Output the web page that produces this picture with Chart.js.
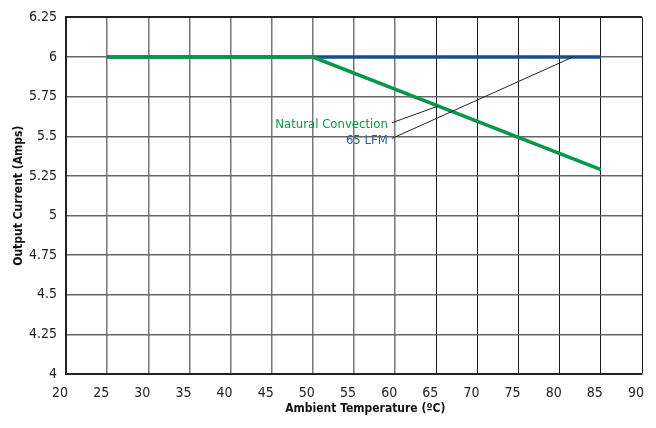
<!DOCTYPE html>
<html>
<head>
<meta charset="utf-8">
<script src="https://cdn.jsdelivr.net/npm/chart.js@4/dist/chart.umd.min.js"></script>
<style>
  html, body { margin: 0; padding: 0; background: #fff; }
  #wrap { width: 656px; height: 428px; }
</style>
</head>
<body>
<div id="wrap"><canvas id="derating"></canvas></div>
<script>
// Ambient temperature (ºC) and output current (Amps)
const naturalTemps = [25, 50, 85];
const naturalCurrent = [6, 6, 5.29];
const lfmTemps = [25, 85];
const lfmCurrent = [6, 6];

// callout labels and where their leader lines start/end (data units)
const calloutLabels = ['Natural Convection', '65 LFM'];
const calloutFrom = [[59.6, 5.585], [59.6, 5.486]];
const calloutTo = [[65.2, 5.69], [81.6, 6.0]];

const FONT = '"DejaVu Sans Condensed", "Liberation Sans Narrow", sans-serif';
const GREEN = '#05984a';
const BLUE = '#144f8c';

// draw the callouts with their leader lines
const calloutPlugin = {
    id: 'callouts',
    afterDatasetsDraw(chart) {
        const ctx = chart.ctx;
        const x = chart.scales.x;
        const y = chart.scales.y;
        const colors = [GREEN, '#2b5f96'];
        ctx.save();
        calloutLabels.forEach((label, i) => {
            const x0 = x.getPixelForValue(calloutFrom[i][0]);
            const y0 = y.getPixelForValue(calloutFrom[i][1]);
            const x1 = x.getPixelForValue(calloutTo[i][0]);
            const y1 = y.getPixelForValue(calloutTo[i][1]);
            ctx.strokeStyle = '#222';
            ctx.lineWidth = 1;
            ctx.beginPath();
            ctx.moveTo(x0, y0);
            ctx.lineTo(x1, y1);
            ctx.stroke();
            ctx.fillStyle = colors[i];
            ctx.font = '13px ' + FONT;
            ctx.textAlign = 'right';
            ctx.textBaseline = 'middle';
            ctx.fillText(label, x0 - 4, y0 + 2);
        });
        ctx.restore();
    }
};

new Chart(document.getElementById('derating'), {
    type: 'line',
    data: {
        datasets: [
            {
                label: 'Natural Convection',
                data: naturalTemps.map((t, i) => ({ x: t, y: naturalCurrent[i] })),
                borderColor: GREEN,
                borderWidth: 3.5,
                pointRadius: 0,
                tension: 0
            },
            {
                label: '65 LFM',
                data: lfmTemps.map((t, i) => ({ x: t, y: lfmCurrent[i] })),
                borderColor: BLUE,
                borderWidth: 3.5,
                pointRadius: 0,
                tension: 0
            }
        ]
    },
    options: {
        responsive: true,
        maintainAspectRatio: false,
        animation: false,
        layout: { padding: { left: 0, right: 14, top: 12, bottom: 0 } },
        plugins: {
            legend: { display: false },
            tooltip: { enabled: false }
        },
        scales: {
            x: {
                type: 'linear',
                min: 20,
                max: 90,
                afterFit: (scale) => {
                    scale.height = 54;
                    scale.paddingLeft = 0;
                    scale.paddingRight = 0;
                },
                ticks: {
                    stepSize: 5,
                    labelOffset: -6,
                    padding: 11,
                    color: '#222',
                    font: { family: FONT, size: 14 }
                },
                grid: {
                    drawTicks: false,
                    // right half of the grid is printed darker in the original
                    color: (c) => (c.tick && c.tick.value >= 65 ? '#1a1a1a' : '#777'),
                    lineWidth: (c) => (c.tick && c.tick.value >= 65 ? 1 : 1.5)
                },
                border: { color: '#222', width: 2 },
                title: {
                    display: true,
                    // leading spaces nudge the title right, as in the original
                    text: '      Ambient Temperature (ºC)',
                    color: '#111',
                    font: { family: FONT, size: 12, weight: 'bold' },
                    padding: { top: 0, bottom: 12 }
                }
            },
            y: {
                min: 4,
                max: 6.25,
                afterFit: (scale) => { scale.width = 66; },
                ticks: {
                    stepSize: 0.25,
                    padding: 9,
                    color: '#222',
                    font: { family: FONT, size: 14 },
                    callback: (v) => String(+v.toFixed(2))
                },
                grid: {
                    drawTicks: false,
                    color: (c) => (c.tick && c.tick.value >= 6.25 ? '#222' : '#666'),
                    lineWidth: (c) => (c.tick && c.tick.value >= 6.25 ? 2 : 1.5)
                },
                border: { color: '#222', width: 2 },
                title: {
                    display: true,
                    text: 'Output Current (Amps)',
                    color: '#111',
                    font: { family: FONT, size: 12, weight: 'bold' },
                    padding: { top: 12, bottom: 0 }
                }
            }
        }
    },
    plugins: [calloutPlugin]
});
</script>
</body>
</html>
